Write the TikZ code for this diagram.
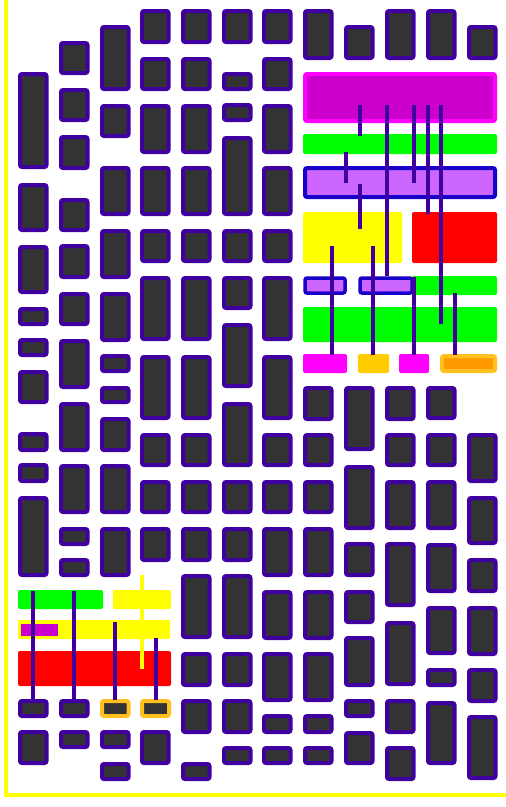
\documentclass[tikz,border=0pt]{standalone}
\definecolor{oscuro}{RGB}{51,51,51}
\definecolor{tinta}{RGB}{64,0,160}
\definecolor{azul}{RGB}{25,0,200}
\definecolor{lila}{RGB}{204,102,255}
\definecolor{morado}{RGB}{204,0,204}
\definecolor{fucsia}{RGB}{255,0,255}
\definecolor{verde}{RGB}{0,255,0}
\definecolor{amarillo}{RGB}{255,255,0}
\definecolor{rojo}{RGB}{255,0,0}
\definecolor{ambar}{RGB}{255,204,0}
\definecolor{naranja}{RGB}{255,153,0}
\definecolor{borde}{RGB}{255,192,32}
\begin{document}
\begin{tikzpicture}[x=1pt, y=-1pt,
  celda/.style={draw=tinta, fill=oscuro, line width=4pt, rounded corners=2pt},
  barra/.style={rounded corners=2pt},
  hilo/.style={draw=tinta, line width=3.8pt}]
  \useasboundingbox (0,0) rectangle (506,807);
  % el marco amarillo
  \draw[amarillo, line width=3.8pt] (6,0) -- (6,795) -- (506,795);
  % las columnas de cajas
  \foreach \x/\lista in {
    18/{72/169,183/232,245/294,307/326,338/357,370/404,432/452,463/483,496/577,699/718,730/765},
    59/{41/75,88/122,135/170,198/232,244/279,292/326,339/389,402/452,464/514,527/546,558/577,699/718,730/749},
    100/{25/91,104/138,166/216,229/279,292/342,354/373,386/404,417/452,464/514,527/577,730/749,762/781},
    140/{9/44,57/91,104/154,166/216,229/263,276/341,355/420,433/467,480/514,527/562,730/765},
    181/{9/44,57/91,104/154,166/216,229/263,276/341,355/420,433/467,480/514,527/562,574/639,652/687,699/734,762/781},
    222/{9/44,72/91,103/122,136/216,229/263,276/310,323/388,402/467,480/514,527/562,574/639,652/687,699/734,746/765},
    262/{9/44,57/91,104/154,166/216,229/263,276/341,355/420,433/467,480/514,527/577,590/640,652/702,714/734,746/765},
    303/{9/60,386/421,433/467,480/514,527/577,590/640,652/702,714/734,746/765},
    344/{25/60,386/451,465/530,542/577,590/624,636/687,699/718,731/765},
    385/{9/60,386/421,433/467,480/530,542/607,621/686,699/734,746/781},
    426/{9/60,386/420,433/467,480/530,543/593,606/655,668/687,701/765},
    467/{25/60,433/483,496/545,558/593,606/656,668/703,715/780}}
  {
    \foreach \t/\b in \lista
      \draw[celda] (\x+2,\t+2) rectangle (\x+28.5,\b-2);
  }
  % las dos cajas de borde naranja
  \draw[celda, draw=borde] (102,701) rectangle (128.5,716);
  \draw[celda, draw=borde] (142,701) rectangle (169,716);
  % bloque de arriba a la derecha
  \filldraw[barra, draw=fucsia, fill=morado, line width=4pt] (305,74) rectangle (495,121);
  \fill[barra, verde] (303,134) rectangle (497,154);
  \filldraw[barra, draw=azul, fill=lila, line width=4pt] (305,168) rectangle (495,197);
  \fill[barra, amarillo] (303,212) rectangle (402,263);
  \fill[barra, rojo] (412,212) rectangle (497,263);
  \fill[barra, verde] (412,276) rectangle (497,295);
  \filldraw[barra, draw=azul, fill=lila, line width=3.5pt] (305,278) rectangle (345,293);
  \filldraw[barra, draw=azul, fill=lila, line width=3.5pt] (360,278) rectangle (412,293);
  \fill[barra, verde] (303,307) rectangle (497,342);
  \fill[barra, fucsia] (303,354) rectangle (347,373);
  \fill[barra, ambar] (358,354) rectangle (389,373);
  \fill[barra, fucsia] (399,354) rectangle (429,373);
  \filldraw[barra, draw=borde, fill=naranja, line width=4pt] (442,356) rectangle (495,371);
  % los hilos de arriba
  \draw[hilo] (360,105) -- (360,136);
  \draw[hilo] (387,105) -- (387,276);
  \draw[hilo] (414,105) -- (414,183);
  \draw[hilo] (428,105) -- (428,214);
  \draw[hilo] (441,105) -- (441,324);
  \draw[hilo] (346,152) -- (346,183);
  \draw[hilo] (360,184) -- (360,229);
  \draw[hilo] (332,246) -- (332,355);
  \draw[hilo] (373,246) -- (373,355);
  \draw[hilo] (414,277) -- (414,355);
  \draw[hilo] (455,293) -- (455,355);
  % bloque de abajo a la izquierda
  \fill[barra, verde] (18,590) rectangle (103,609);
  \fill[barra, amarillo] (113,590) rectangle (171,609);
  \fill[barra, amarillo] (18,620) rectangle (170,639);
  \fill[morado] (21,624) rectangle (58,636);
  \fill[barra, rojo] (18,651) rectangle (171,686);
  \draw[amarillo, line width=3.8pt] (142,575) -- (142,669);
  % los hilos de abajo
  \draw[hilo] (33,591) -- (33,699);
  \draw[hilo] (74,591) -- (74,699);
  \draw[hilo] (115,622) -- (115,700);
  \draw[hilo] (156,638) -- (156,700);
\end{tikzpicture}
\end{document}
